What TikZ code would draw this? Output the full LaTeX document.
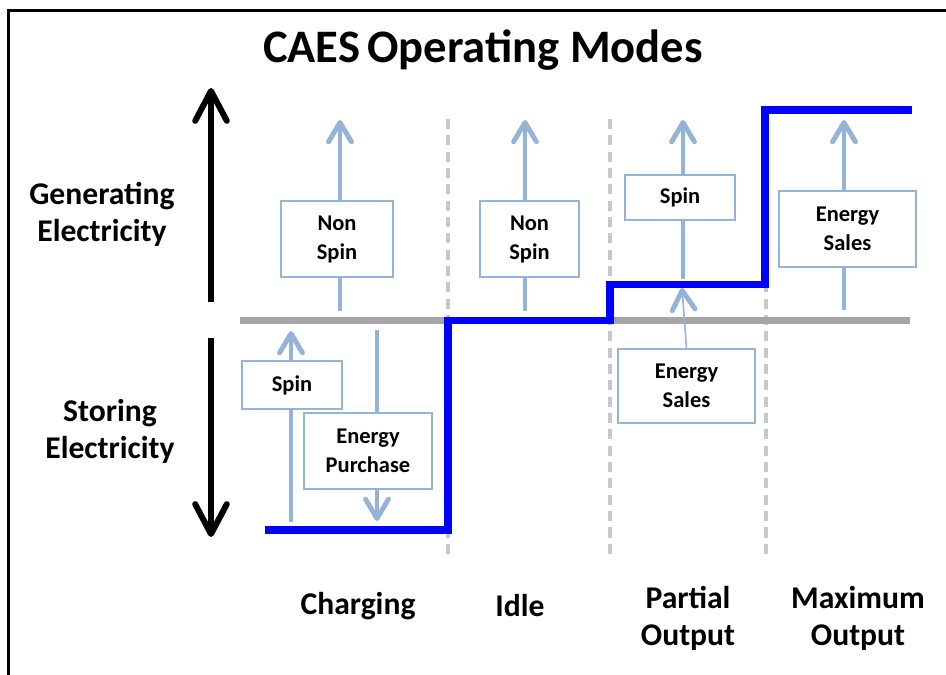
\documentclass[tikz,border=0pt]{standalone}
\usepackage{fontspec}
\setmainfont{Carlito}
\usetikzlibrary{arrows.meta}
\definecolor{flowblue}{HTML}{95B3D7}
\definecolor{axisgray}{HTML}{A6A6A6}
\definecolor{sepgray}{HTML}{C8C8C8}
\definecolor{levelblue}{HTML}{0000FF}
\tikzset{
  modebox/.style={draw=flowblue, line width=1pt, fill=white, align=center,
    inner sep=0pt, font=\bfseries\fontsize{12.8}{16.5}\selectfont},
  flow/.style={flowblue, line width=2.8pt,
    -{Straight Barb[length=11pt,width=13pt,round]}},
  bigarrow/.style={line width=3.4pt,
    -{Straight Barb[length=17pt,width=18pt,round]}},
  sidelabel/.style={align=center, font=\bfseries\fontsize{18}{21}\selectfont},
  sepline/.style={sepgray, line width=2.2pt, dash pattern=on 5.7pt off 3.6pt},
}
\begin{document}
\begin{tikzpicture}[x=0.02cm,y=-0.02cm]
\useasboundingbox (0,0) rectangle (946,675);
\draw[line width=1.7pt] (8.5,675) -- (8.5,10.5) -- (946,10.5);

\node (title) at (483,50) {\bfseries\fontsize{26.5}{30}\selectfont CAES\kern4pt Operating Modes};

% left hand side
\coordinate (genbot) at (211,302);
\coordinate (gentop) at (211,88);
\coordinate (stotop) at (211,338);
\coordinate (stobot) at (211,537);
\draw[bigarrow] (genbot) -- (gentop);
\draw[bigarrow] (stotop) -- (stobot);
\node[sidelabel] (gen) at (102,214) {Generating\\Electricity};
\node[sidelabel] (sto) at (110,431) {Storing\\Electricity};

% dividers
\foreach \x in {448,610,766}
  \draw[sepline] (\x,119) -- (\x,557);
\draw[axisgray, line width=4pt] (240,320.5) -- (910,320.5);

% charging
\coordinate (c1b) at (340,311);
\coordinate (c1t) at (340,120);
\draw[flow] (c1b) -- (c1t);
\node[modebox, minimum width=2.24cm, minimum height=1.52cm] (cns) at (337,239) {Non\\Spin};
\coordinate (c2b) at (291,522);
\coordinate (c2t) at (291,331);
\draw[flow] (c2b) -- (c2t);
\node[modebox, minimum width=2cm, minimum height=0.96cm] (cspin) at (292,385) {Spin};
\coordinate (c3t) at (377,330);
\coordinate (c3b) at (377,521);
\draw[flow] (c3t) -- (c3b);
\node[modebox, minimum width=2.56cm, minimum height=1.52cm] (cbuy) at (368,451) {Energy\\Purchase};

% idle
\coordinate (i1b) at (525,311);
\coordinate (i1t) at (525,120);
\draw[flow] (i1b) -- (i1t);
\node[modebox, minimum width=1.98cm, minimum height=1.52cm] (ins) at (529.5,239) {Non\\Spin};

% partial output
\coordinate (p1b) at (683,279);
\coordinate (p1t) at (683,120);
\draw[flow] (p1b) -- (p1t);
\node[modebox, minimum width=2.2cm, minimum height=0.9cm] (pspin) at (680,197.5) {Spin};
\node[modebox, minimum width=2.74cm, minimum height=1.48cm] (psale) at (686.5,386) {Energy\\Sales};
\coordinate (ptip) at (682,288);
\draw[flowblue, line width=0.9pt,
  -{Straight Barb[length=11pt,width=13pt,round,line width=2.8pt]}] (psale.north) -- (ptip);

% maximum output
\coordinate (m1b) at (844,310);
\coordinate (m1t) at (844,120);
\draw[flow] (m1b) -- (m1t);
\node[modebox, minimum width=2.74cm, minimum height=1.52cm] (msale) at (847.5,229) {Energy\\Sales};

% level of the store
\draw[levelblue, line width=4pt] (265,530) -- (448,530) -- (448,320.5) -- (610,320.5)
  -- (610,284.5) -- (765,284.5) -- (765,110) -- (912,110);

\node[sidelabel] (lcharge) at (358,606) {Charging};
\node[sidelabel] (lidle) at (520,606) {Idle};
\node[sidelabel] (lpart) at (688,618) {Partial\\Output};
\node[sidelabel] (lmax) at (858,618) {Maximum\\Output};
\end{tikzpicture}
\end{document}
